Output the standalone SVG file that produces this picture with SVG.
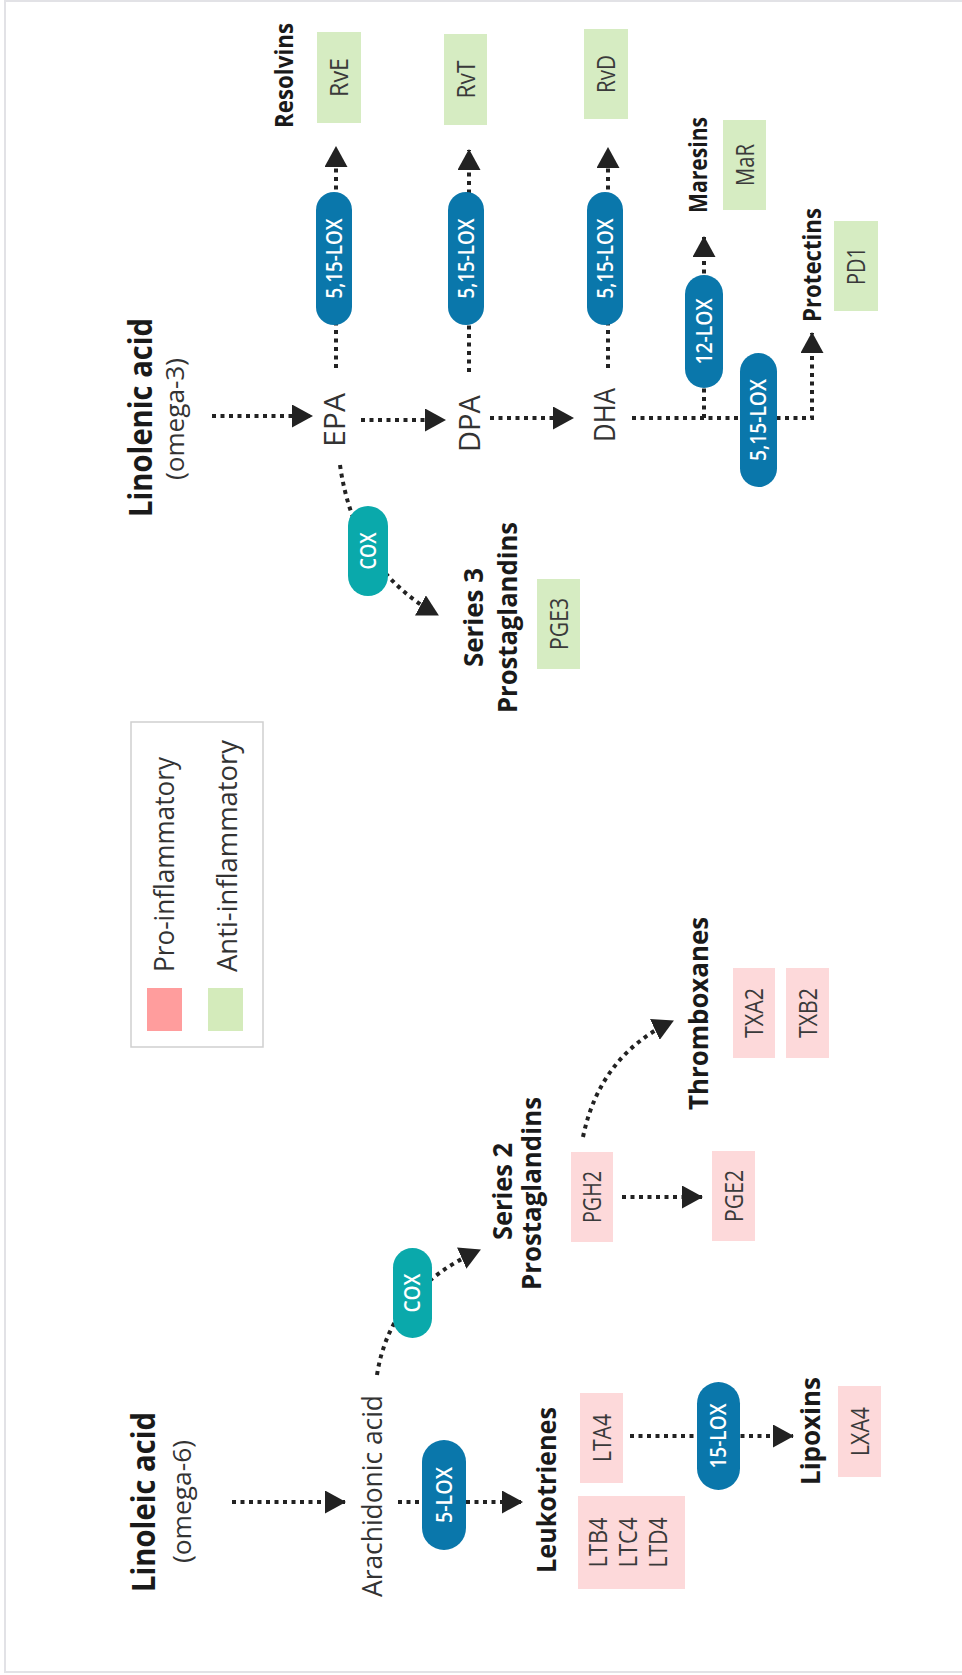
<svg xmlns="http://www.w3.org/2000/svg" width="962" height="1675" viewBox="0 0 962 1675">
<defs>
<marker id="ah" markerUnits="userSpaceOnUse" markerWidth="21" markerHeight="23" viewBox="0 0 21 23" refX="20" refY="11.5" orient="auto">
<path d="M0,0 L21,11.5 L0,23 Z" fill="#222"/>
</marker>
<style>
.frame{stroke:#e2e2e6;stroke-width:2;fill:none}
.dot{fill:none;stroke:#222;stroke-width:4;stroke-dasharray:4 4.5}
.arr{marker-end:url(#ah)}
.lox{fill:#0a77ab}
.cox{fill:#0aa9ab}
.anti{fill:#d6ecc2}
.pro{fill:#fdd9da}
text{font-family:"Open Sans","Liberation Sans",sans-serif;text-anchor:middle}
.t{fill:#333;font-size:29px}
.title{fill:#1a1a1a;font-size:32px;font-weight:700}
.sub{fill:#333;font-size:26px}
.b{fill:#1a1a1a;font-size:27px;font-weight:700}
.bs{fill:#1a1a1a;font-size:25px;font-weight:700}
.bx{fill:#3a3a3a;font-size:25px}
.pl{fill:#fff;font-size:21px;font-weight:600}
.lg{fill:#333;font-size:27px}
</style>
</defs>
<rect width="962" height="1675" fill="#fff"/>
<path class="frame" d="M962,1 H5 V1672 H962"/>

<g id="legend">
<rect x="131" y="722" width="132" height="325" fill="#fff" stroke="#cfcfcf" stroke-width="1.5"/>
<rect x="147" y="988" width="35" height="43" fill="#ff9d9d"/>
<rect x="208" y="988" width="35" height="43" fill="#d4ebbb"/>
<text class="lg" transform="translate(174,864.5) rotate(-90)" textLength="215" lengthAdjust="spacingAndGlyphs">Pro-inflammatory</text>
<text class="lg" transform="translate(237,856) rotate(-90)" textLength="232" lengthAdjust="spacingAndGlyphs">Anti-inflammatory</text>
</g>

<g id="connectors">
<path class="dot arr" d="M212,416 H312"/>
<path class="dot arr" d="M361,420 H445"/>
<path class="dot arr" d="M490,418 H573"/>
<path class="dot arr" d="M336,368 V147"/>
<path class="dot arr" d="M469,372 V150"/>
<path class="dot arr" d="M608,368 V148"/>
<path class="dot arr" d="M632,418 H812 V333"/>
<path class="dot arr" d="M704,418 V237"/>
<path class="dot arr" d="M340,465 Q355,570 438,615"/>
<path class="dot arr" d="M232,1502 H345"/>
<path class="dot arr" d="M398,1502 H522"/>
<path class="dot arr" d="M377,1375 Q390,1290 480,1250"/>
<path class="dot arr" d="M622,1197 H702"/>
<path class="dot arr" d="M583,1137 Q600,1055 673,1021"/>
<path class="dot arr" d="M630,1436 H793"/>
</g>

<g id="linolenic">
<text class="title" transform="translate(152,417.5) rotate(-90)" textLength="199" lengthAdjust="spacingAndGlyphs">Linolenic acid</text>
<text class="sub" transform="translate(184,419) rotate(-90)" textLength="122" lengthAdjust="spacingAndGlyphs">(omega-3)</text>
</g>
<g id="epa"><text class="t" transform="translate(345,420) rotate(-90)" textLength="54" lengthAdjust="spacingAndGlyphs">EPA</text></g>
<g id="dpa"><text class="t" transform="translate(480,423.5) rotate(-90)" textLength="57" lengthAdjust="spacingAndGlyphs">DPA</text></g>
<g id="dha"><text class="t" transform="translate(615,415) rotate(-90)" textLength="54" lengthAdjust="spacingAndGlyphs">DHA</text></g>

<g id="lox-epa"><rect class="lox" x="316" y="192" width="36" height="133" rx="18"/><text class="pl" transform="translate(341.5,258.5) rotate(-90)" textLength="80" lengthAdjust="spacingAndGlyphs">5,15-LOX</text></g>
<g id="lox-dpa"><rect class="lox" x="448" y="192" width="36" height="133" rx="18"/><text class="pl" transform="translate(473.5,258.5) rotate(-90)" textLength="80" lengthAdjust="spacingAndGlyphs">5,15-LOX</text></g>
<g id="lox-dha"><rect class="lox" x="587" y="192" width="36" height="133" rx="18"/><text class="pl" transform="translate(612.5,258.5) rotate(-90)" textLength="80" lengthAdjust="spacingAndGlyphs">5,15-LOX</text></g>
<g id="lox12"><rect class="lox" x="685" y="275" width="38" height="113" rx="19"/><text class="pl" transform="translate(711.5,331.5) rotate(-90)" textLength="66" lengthAdjust="spacingAndGlyphs">12-LOX</text></g>
<g id="lox-pd"><rect class="lox" x="740" y="353" width="37" height="134" rx="18.5"/><text class="pl" transform="translate(766,420) rotate(-90)" textLength="82" lengthAdjust="spacingAndGlyphs">5,15-LOX</text></g>
<g id="cox3"><rect class="cox" x="348" y="506" width="40" height="90" rx="20"/><text class="pl" transform="translate(375.5,551) rotate(-90)" textLength="37" lengthAdjust="spacingAndGlyphs">COX</text></g>

<g id="resolvins">
<text class="bs" transform="translate(293,75.5) rotate(-90)" textLength="105" lengthAdjust="spacingAndGlyphs">Resolvins</text>
</g>
<g id="rve"><rect class="anti" x="317" y="32" width="44" height="91"/><text class="bx" transform="translate(348,77.5) rotate(-90)" textLength="39" lengthAdjust="spacingAndGlyphs">RvE</text></g>
<g id="rvt"><rect class="anti" x="444" y="34" width="43" height="91"/><text class="bx" transform="translate(474.5,79.5) rotate(-90)" textLength="38" lengthAdjust="spacingAndGlyphs">RvT</text></g>
<g id="rvd"><rect class="anti" x="584" y="29" width="44" height="90"/><text class="bx" transform="translate(615,74) rotate(-90)" textLength="38" lengthAdjust="spacingAndGlyphs">RvD</text></g>
<g id="maresins">
<text class="bs" transform="translate(707,165) rotate(-90)" textLength="96" lengthAdjust="spacingAndGlyphs">Maresins</text>
<rect class="anti" x="723" y="120" width="43" height="90"/><text class="bx" transform="translate(753.5,165) rotate(-90)" textLength="42" lengthAdjust="spacingAndGlyphs">MaR</text>
</g>
<g id="protectins">
<text class="bs" transform="translate(821,265) rotate(-90)" textLength="114" lengthAdjust="spacingAndGlyphs">Protectins</text>
<rect class="anti" x="834" y="221" width="44" height="90"/><text class="bx" transform="translate(865,266) rotate(-90)" textLength="38" lengthAdjust="spacingAndGlyphs">PD1</text>
</g>
<g id="series3">
<text class="b" transform="translate(483,617.5) rotate(-90)" textLength="99" lengthAdjust="spacingAndGlyphs">Series 3</text>
<text class="b" transform="translate(516.5,617.5) rotate(-90)" textLength="191" lengthAdjust="spacingAndGlyphs">Prostaglandins</text>
<rect class="anti" x="537" y="579" width="43" height="90"/><text class="bx" transform="translate(567.5,624) rotate(-90)" textLength="52" lengthAdjust="spacingAndGlyphs">PGE3</text>
</g>

<g id="linoleic">
<text class="title" transform="translate(155,1502) rotate(-90)" textLength="180" lengthAdjust="spacingAndGlyphs">Linoleic acid</text>
<text class="sub" transform="translate(191,1501.5) rotate(-90)" textLength="123" lengthAdjust="spacingAndGlyphs">(omega-6)</text>
</g>
<g id="arachidonic"><text class="t" style="font-size:28px" transform="translate(382,1496) rotate(-90)" textLength="202" lengthAdjust="spacingAndGlyphs">Arachidonic acid</text></g>
<g id="lox5"><rect class="lox" x="422" y="1440" width="44" height="110" rx="22"/><text class="pl" transform="translate(451.5,1495) rotate(-90)" textLength="56" lengthAdjust="spacingAndGlyphs">5-LOX</text></g>
<g id="cox2"><rect class="cox" x="393" y="1248" width="39" height="90" rx="19.5"/><text class="pl" transform="translate(420,1293) rotate(-90)" textLength="39" lengthAdjust="spacingAndGlyphs">COX</text></g>
<g id="series2">
<text class="b" transform="translate(512,1191.5) rotate(-90)" textLength="97" lengthAdjust="spacingAndGlyphs">Series 2</text>
<text class="b" transform="translate(540.5,1193.5) rotate(-90)" textLength="193" lengthAdjust="spacingAndGlyphs">Prostaglandins</text>
</g>
<g id="pgh2"><rect class="pro" x="571" y="1152" width="42" height="90"/><text class="bx" transform="translate(601,1197) rotate(-90)" textLength="52" lengthAdjust="spacingAndGlyphs">PGH2</text></g>
<g id="pge2"><rect class="pro" x="712" y="1151" width="43" height="90"/><text class="bx" transform="translate(742.5,1196) rotate(-90)" textLength="52" lengthAdjust="spacingAndGlyphs">PGE2</text></g>
<g id="thromboxanes">
<text class="b" transform="translate(708,1013.5) rotate(-90)" textLength="193" lengthAdjust="spacingAndGlyphs">Thromboxanes</text>
<rect class="pro" x="733" y="968" width="42" height="90"/><text class="bx" transform="translate(763,1013) rotate(-90)" textLength="50" lengthAdjust="spacingAndGlyphs">TXA2</text>
<rect class="pro" x="786" y="968" width="43" height="90"/><text class="bx" transform="translate(816.5,1013) rotate(-90)" textLength="50" lengthAdjust="spacingAndGlyphs">TXB2</text>
</g>
<g id="leukotrienes">
<text class="b" transform="translate(556,1490) rotate(-90)" textLength="166" lengthAdjust="spacingAndGlyphs">Leukotrienes</text>
<rect class="pro" x="580" y="1393" width="43" height="90"/><text class="bx" transform="translate(610.5,1438) rotate(-90)" textLength="48" lengthAdjust="spacingAndGlyphs">LTA4</text>
<rect class="pro" x="578" y="1496" width="107" height="93"/>
<text class="bx" transform="translate(607,1542.5) rotate(-90)" textLength="50" lengthAdjust="spacingAndGlyphs">LTB4</text>
<text class="bx" transform="translate(637,1542.5) rotate(-90)" textLength="50" lengthAdjust="spacingAndGlyphs">LTC4</text>
<text class="bx" transform="translate(667,1542.5) rotate(-90)" textLength="50" lengthAdjust="spacingAndGlyphs">LTD4</text>
</g>
<g id="lox15"><rect class="lox" x="697" y="1382" width="43" height="108" rx="21.5"/><text class="pl" transform="translate(726,1436) rotate(-90)" textLength="65" lengthAdjust="spacingAndGlyphs">15-LOX</text></g>
<g id="lipoxins">
<text class="b" transform="translate(819.5,1431) rotate(-90)" textLength="108" lengthAdjust="spacingAndGlyphs">Lipoxins</text>
<rect class="pro" x="838" y="1386" width="43" height="91"/><text class="bx" transform="translate(868.5,1431.5) rotate(-90)" textLength="49" lengthAdjust="spacingAndGlyphs">LXA4</text>
</g>
</svg>
